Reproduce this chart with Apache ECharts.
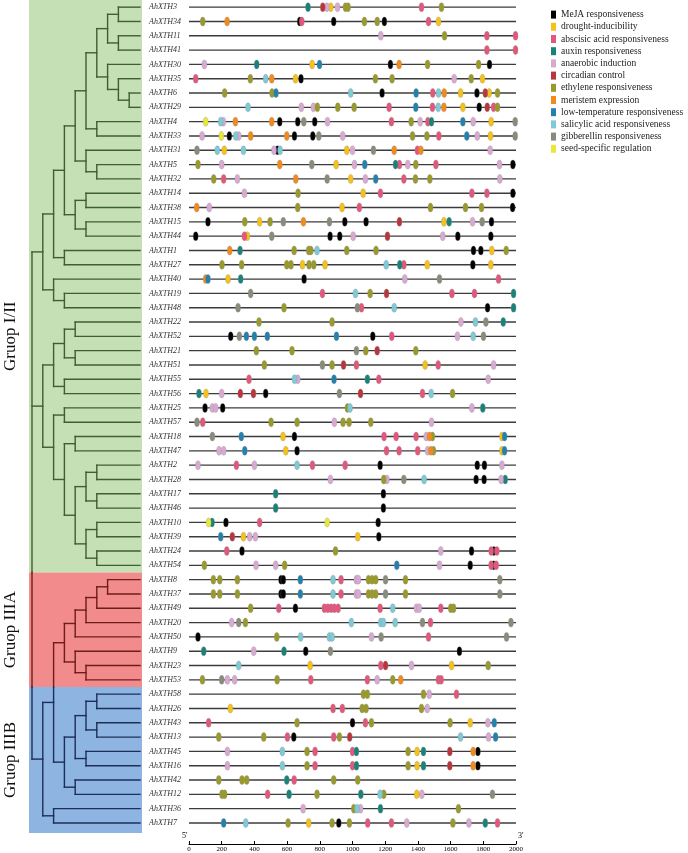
<!DOCTYPE html>
<html><head><meta charset="utf-8">
<script src="https://cdn.jsdelivr.net/npm/echarts@6/dist/echarts.min.js"></script>
<style>html,body{margin:0;padding:0;background:#fff}#c{width:688px;height:853px}</style>
</head><body><div id="c"></div>
<script>
// ---- genes (top to bottom) ----
const genes = ['AhXTH3','AhXTH34','AhXTH11','AhXTH41','AhXTH30','AhXTH35','AhXTH6','AhXTH29','AhXTH4','AhXTH33','AhXTH31','AhXTH5','AhXTH32','AhXTH14','AhXTH38','AhXTH15','AhXTH44','AhXTH1','AhXTH27','AhXTH40','AhXTH19','AhXTH48','AhXTH22','AhXTH52','AhXTH21','AhXTH51','AhXTH55','AhXTH56','AhXTH25','AhXTH57','AhXTH18','AhXTH47','AhXTH2','AhXTH28','AhXTH17','AhXTH46','AhXTH10','AhXTH39','AhXTH24','AhXTH54','AhXTH8','AhXTH37','AhXTH49','AhXTH20','AhXTH50','AhXTH9','AhXTH23','AhXTH53','AhXTH58','AhXTH26','AhXTH43','AhXTH13','AhXTH45','AhXTH16','AhXTH42','AhXTH12','AhXTH36','AhXTH7'];
const elementTypes = ['MeJA responsiveness','drought-inducibility','abscisic acid responsiveness','auxin responsiveness','anaerobic induction','circadian control','ethylene responsiveness','meristem expression','low-temperature responsiveness','salicylic acid responsiveness','gibberellin responsiveness','seed-specific regulation'];
const typeColors = ['#000000','#F4C21B','#E4577D','#1A8379','#D8AAD2','#B8363C','#9A9A2C','#F28A1E','#2481AD','#7ECAD6','#898C7A','#E9E73C'];
const groupNames = ['Gruop I/II','Gruop IIIA','Gruop IIIB'];
const groupRows = [[0,39],[40,47],[48,57]];
const axisTicks = [0,2000,200];

// ---- cis-element positions: [gene number, position, position, ...] ----
const meja = [[34,677,885,1195],[30,1232,1838],[35,685],[6,1181,1761],[29,1775],[4,555,665,769],[33,247,645,757],[31,541],[5,1981],[14,1981],[38,1979],[15,116,953,1083,1850],[44,41,863,922,1644,1846],[1,1740,1785],[27,1736],[40,704],[48,1826],[52,255,1124],[56,469],[25,98,206],[18,645],[47,661],[2,1169,1763,1807],[28,1756,1805],[17,1189],[46,1189],[10,226,1157],[39,1161],[24,324,1728,1865],[54,1720,1863],[8,563,577],[37,563,577],[49,651],[50,55],[9,714,1654],[43,1000],[13,641],[45,1767],[16,1767],[7,916]];
const drought = [[3,867],[34,1526],[30,753],[35,651,1795],[6,1661,1836],[29,1675],[4,1848],[33,1844],[31,216,965],[5,900],[32,989],[14,1065],[38,936],[15,432,1559],[44,357],[1,1852],[27,694,832,1457,1846],[40,239],[56,104],[51,1444],[18,575,1914],[47,592,1914],[39,333,1032],[23,741,1606],[26,253],[43,1720],[45,1395],[16,1395],[12,1393],[7,732]];
const abscisic = [[3,1422],[34,690,1465],[11,1822,1997],[41,1822,1997],[35,41],[6,1491],[29,1224,1489,1863],[4,1238,1461],[33,1528],[31,1397],[5,1287,1510],[32,212,1314],[14,1171,1730,1822],[38,1042],[44,339],[27,1314],[40,1893],[19,816,1608,1746],[48,1055],[52,1240],[51,1024,1524],[55,367,1161],[56,1428],[57,84],[18,1193,1267,1389],[47,1208,1285,1399],[2,290,755,955],[10,432],[24,231,1848,1883],[54,1848,1879],[8,930],[37,930],[49,549,828,849,869,889,912,1169,1540],[20,1477],[50,1465],[23,1173],[53,745,1091,1526,1542],[58,1636],[26,881,938],[43,120,1079],[13,602,885],[45,771,1000],[16,771,1000],[42,643],[12,481],[7,1093,1238,1887]];
const auxin = [[3,728],[30,414],[4,1483],[5,1263],[15,1591],[1,312],[27,1289],[40,316],[19,1985],[48,1985],[22,1922],[55,1091],[56,61],[25,1797],[28,1934],[17,530],[46,530],[10,141],[9,90,581],[45,1024,1434],[16,1024,1434],[42,598],[12,612,1051],[36,1171],[7,1812]];
const anaerobic = [[3,843,908],[11,1173],[30,94],[35,1622],[29,687,761],[4,210,847,1414,1738],[33,80,304,940,1763],[31,520,1000,1842],[5,200,1012,1338,1899],[32,296,1079,1901],[14,339],[38,124],[15,1734],[44,1004,1552],[40,1320],[22,1663],[52,1642],[51,1863],[55,665,1830],[56,200],[25,143,163,1730],[57,889,1483],[18,1451],[47,184,212,1459],[2,55,400,1914],[28,865,1210,1909],[39,371,406],[24,1540],[54,410,530,1532],[8,1024,1036],[37,1024,1036],[49,1391,1408],[20,261],[50,1116],[9,396],[23,1361],[53,235,279,1151],[58,1469],[26,1457],[43,1828],[13,1832],[45,235],[16,235],[12,1424],[36,698,1049],[7,1332,1712]];
const circadian = [[3,818],[6,1812],[29,1824],[15,1287],[44,1214],[19,1208],[21,1151],[51,945],[56,314,394,1049],[39,265],[23,1202],[13,983],[45,1595],[16,1595]];
const ethylene = [[3,957,973,1544],[34,84,1073,1151],[11,1563],[30,1459,1771],[35,375,1140,1242,1726],[6,218,508,1887],[29,785,910,1010,1887],[4,1359],[33,1367,1455],[5,55,1387],[32,151,1385,1473],[14,667],[38,665,1477,1691,1789],[15,341,496],[1,643,732,745,965,1144,1940],[27,202,322,598,624,734,763],[19,1108],[48,581],[22,428,875],[21,412,630,1081,1387],[51,461,875],[56,1612],[25,969],[57,502,661,942,979,1112],[18,1489],[47,1495],[28,1191],[24,896],[54,94,585],[8,149,188,296,1098,1120,1142,1324],[37,149,188,296,1098,1120,1142,1324],[49,377,1601,1618],[20,345],[50,537],[23,1830],[53,82,539,1246],[58,1067,1091,1434],[26,1059,1083,1422],[43,661,1116,1597],[13,182,457,920],[45,722,1340],[16,722,1340],[42,182,324,353,885,1032],[12,202,218,783,1191],[36,1008,1648],[7,606,875,981,1614]];
const meristem = [[34,233],[30,1285],[35,506],[6,1561],[29,1559],[4,284,506],[33,377,598],[31,1255,1418],[5,555],[32,653],[38,47],[15,700],[1,249],[40,102],[18,1471],[47,1479],[53,1295],[45,1738],[16,1738]];
const lowTemp = [[30,798],[6,532,1389],[29,1387],[4,1675],[33,1699],[5,1075],[32,1142],[40,116],[52,351,400,479,902],[55,887],[18,320,1930],[47,341,1930],[39,194],[54,1271],[8,681],[37,681],[43,1867],[13,1875],[7,212]];
const salicylic = [[35,469],[6,989,1526],[29,361,1524],[4,194],[33,286],[31,173,333,557],[1,783],[27,1206],[19,1018],[48,1255],[22,1752],[52,1738],[55,645],[56,1481],[25,985],[2,661],[28,1438],[8,881],[37,881],[49,1246],[20,993,1173,1189,1261],[50,683,859,875],[23,304],[13,1661],[45,571],[16,571],[12,1169],[36,1028],[7,347]];
const gibberellin = [[4,702,1995],[33,794,1995],[31,49,1128],[5,751],[32,845],[15,577,859,1793],[44,506],[40,1532],[19,377],[48,300,1030],[22,1816],[52,308,1801],[21,1024],[51,816],[56,920],[57,49],[18,143],[28,1314],[8,1202,1901],[37,1202,1901],[20,304,1428,1969],[50,1175,1942],[9,865],[53,200],[12,1856]];
const seedSpecific = [[4,102],[33,198],[10,120,845]];
const typeData = [meja,drought,abscisic,auxin,anaerobic,circadian,ethylene,meristem,lowTemp,salicylic,gibberellin,seedSpecific];

// ---- cladogram: [node level, child, child...]; leaves = gene numbers (level 10) ----
const cladeUpper = [1,[2,[3,[4,[5,[6,[7,[8,3,34],[8,11,41]],[7,30,[8,35,[9,6,29]]]],[6,4,33]],[5,31,[6,5,32]]],[4,[5,14,38],[5,15,44]]],[3,1,27]],[2,40,[3,19,48]]];
const cladeLower = [1,[2,[3,[4,22,52],[4,21,51]],[3,55,56]],[2,[3,25,57],[3,[4,18,47],[4,[5,[6,2,28],[6,17,46]],[5,[6,10,39],[6,24,54]]]]]];
const cladeIII = [1,[2,[3,[4,[5,[6,[7,8,37],49],20],50],[4,9,[5,23,53]]],[3,[4,[5,[6,58,26],[6,43,13]],[5,45,16]],[4,42,12]]],[2,36,7]];
const tree = [0, cladeUpper, cladeLower, cladeIII];

const rowOf = n => genes.indexOf('AhXTH' + n);

const segs = [];
function lay(node){
  if (typeof node === 'number') return {y: rowOf(node), l: 10};
  const lv = node[0];
  const ch = node.slice(1).map(lay);
  const ys = ch.map(c => c.y);
  const y0 = Math.min(...ys), y1 = Math.max(...ys);
  segs.push([lv, y0, lv, y1]);
  ch.forEach(c => segs.push([lv, c.y, c.l, c.y]));
  return {y: (y0 + y1) / 2, l: lv};
}
lay(tree);
const bounds = [39.5, 47.5];
const regionOf = y => y < bounds[0] ? 0 : (y < bounds[1] ? 1 : 2);
const treeSegs = [];
segs.forEach(s => {
  if (s[0] === s[2]) {
    let pts = [s[1]];
    bounds.forEach(b => { if (b > s[1] && b < s[3]) pts.push(b); });
    pts.push(s[3]);
    for (let i = 0; i < pts.length - 1; i++) treeSegs.push([s[0], pts[i], s[2], pts[i+1], regionOf((pts[i]+pts[i+1])/2)]);
  } else treeSegs.push([s[0], s[1], s[2], s[3], regionOf(s[1])]);
});

const groupBg = ['#C5E0B4','#F28B8B','#8EB4E2'];
const treeLine = ['#3E5F2E','#6E1C1C','#1C2F57'];
const yMin = -0.5, yMax = 58.47;

const ellipse = 'path://M1,0A1,1,0,1,1,1,2A1,1,0,1,1,1,0Z';
const serif = 'Liberation Serif';

const series = [];
series.push({
  type:'custom', xAxisIndex:1, yAxisIndex:1, z:1, silent:true,
  data: groupRows.map((r,i)=>[r[0], r[1], i]),
  renderItem:(p, api)=>{
    const i = api.value(2);
    const a = api.coord([0, api.value(0) - 0.5]);
    const b = api.coord([10, api.value(1) + (i === 2 ? 0.7 : 0.5)]);
    const x0 = a[0] - 3, x1 = b[0] + 2;
    return {type:'group', children:[
      {type:'rect', shape:{x:x0, y:a[1], width:x1-x0, height:b[1]-a[1]}, style:{fill:groupBg[i]}},
      {type:'text', x:a[0]-21, y:(a[1]+b[1])/2 + (i===0?50:0), rotation:Math.PI/2,
       style:{text:groupNames[i], font:'17px "Liberation Serif"', fill:'#111', align:'center', verticalAlign:'middle'}}
    ]};
  }
});
series.push({
  type:'custom', xAxisIndex:1, yAxisIndex:1, z:2, silent:true,
  data: treeSegs,
  renderItem:(p, api)=>{
    const a = api.coord([api.value(0), api.value(1)]);
    const b = api.coord([api.value(2), api.value(3)]);
    return {type:'line', shape:{x1:a[0], y1:a[1], x2:b[0], y2:b[1]}, style:{stroke:treeLine[api.value(4)], lineWidth:1.4, lineCap:'square'}};
  }
});
series.push({
  type:'custom', xAxisIndex:0, yAxisIndex:0, z:3, silent:true,
  data: genes.map((g,i)=>[0, i]),
  renderItem:(p, api)=>{
    const i = api.value(1);
    const a = api.coord([axisTicks[0], i]);
    const b = api.coord([axisTicks[1], i]);
    return {type:'group', children:[
      {type:'line', shape:{x1:a[0], y1:a[1], x2:b[0], y2:b[1]}, style:{stroke:'#3c3c3c', lineWidth:1.4}},
      {type:'text', x:a[0]-40, y:a[1], style:{text:genes[i], font:'italic 8px "Liberation Serif"', fill:'#333', align:'left', verticalAlign:'middle'}}
    ]};
  }
});
typeData.forEach((arr, t)=>{
  const d = [];
  arr.forEach(e => { const r = rowOf(e[0]); e.slice(1).forEach(pos => d.push([pos, r])); });
  series.push({
    name: elementTypes[t], type:'scatter', xAxisIndex:0, yAxisIndex:0, z:4+t,
    symbol: ellipse, symbolSize:[5,9], data:d,
    itemStyle:{color:typeColors[t], borderColor:'rgba(140,140,140,0.7)', borderWidth:0.4, opacity:1},
    emphasis:{disabled:true}
  });
});

const chart = echarts.init(document.getElementById('c'), null, {renderer:'canvas'});
chart.setOption({
  animation:false,
  backgroundColor:'#fff',
  grid:[
    {left:189, width:327, top:0, height:844},
    {left:32, width:108, top:0, height:844}
  ],
  xAxis:[
    {type:'value', gridIndex:0, min:axisTicks[0], max:axisTicks[1], interval:axisTicks[2],
     axisLine:{show:true, onZero:false, lineStyle:{color:'#000', width:1}},
     axisTick:{show:true, inside:true, length:3, lineStyle:{color:'#000'}},
     axisLabel:{fontSize:7, margin:2, fontFamily:serif, color:'#000', formatter: v => String(v)},
     splitLine:{show:false}},
    {type:'value', gridIndex:1, min:0, max:10, show:false}
  ],
  yAxis:[
    {type:'value', gridIndex:0, min:yMin, max:yMax, inverse:true, show:false},
    {type:'value', gridIndex:1, min:yMin, max:yMax, inverse:true, show:false}
  ],
  legend:{
    data:elementTypes, orient:'vertical', left:551, top:9, padding:0,
    itemWidth:5, itemHeight:8, itemGap:1, icon:'rect',
    itemStyle:{borderWidth:0},
    textStyle:{fontFamily:serif, fontSize:9.5, color:'#222', lineHeight:11.2}
  },
  graphic:[
    {type:'text', left:182, top:832, style:{text:"5'", font:'8px "Liberation Serif"', fill:'#000'}},
    {type:'text', left:518, top:832, style:{text:"3'", font:'8px "Liberation Serif"', fill:'#000'}}
  ],
  series: series
});
</script></body></html>
